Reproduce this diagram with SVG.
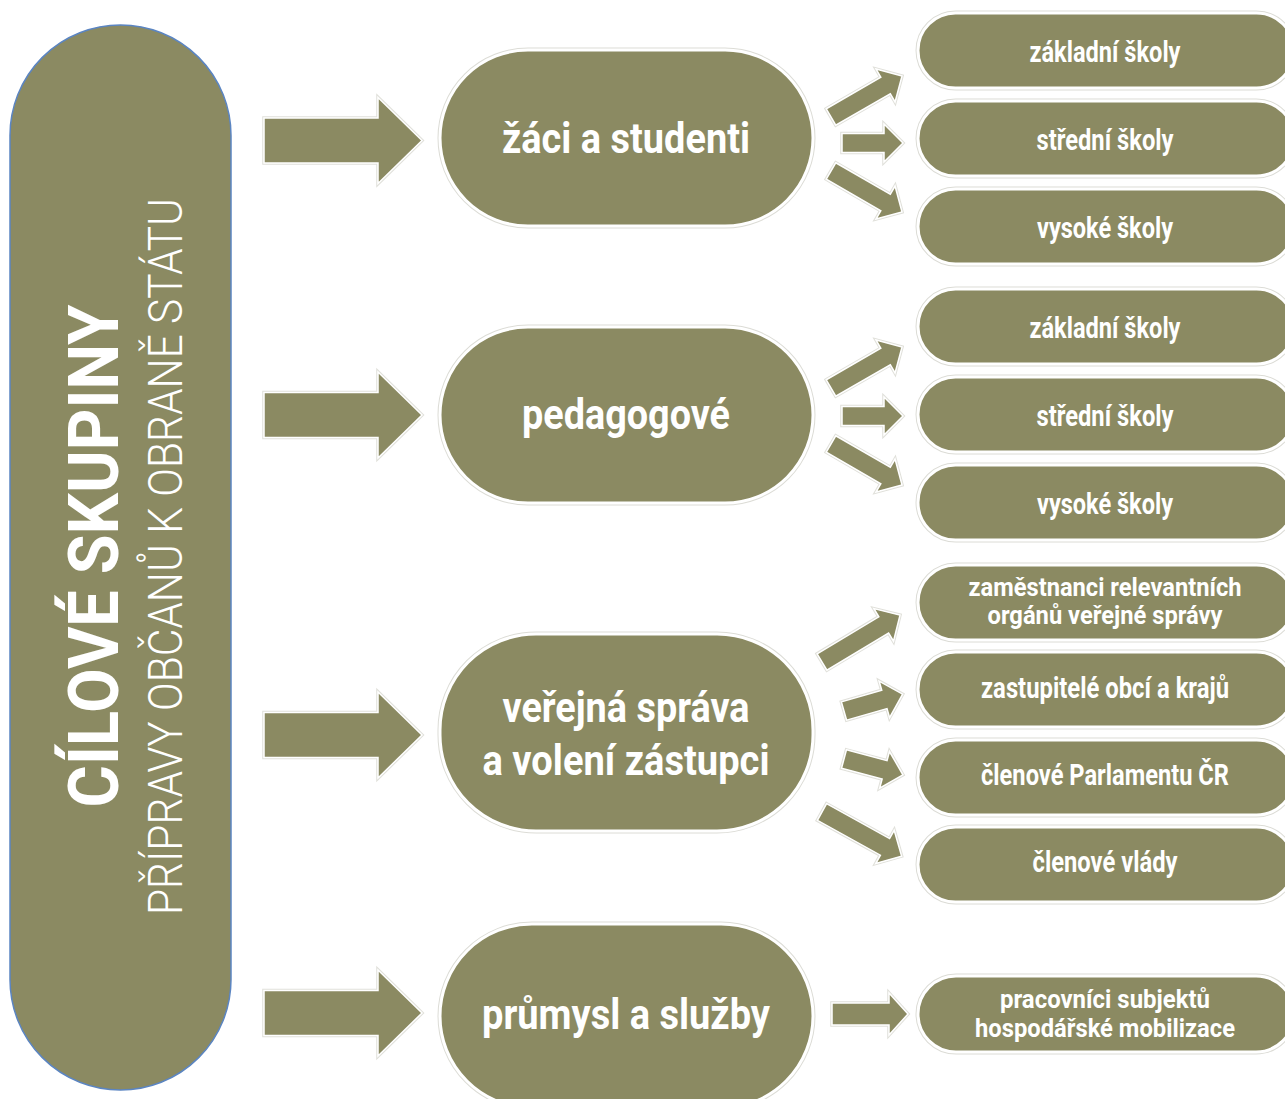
<svg xmlns="http://www.w3.org/2000/svg" xmlns:xlink="http://www.w3.org/1999/xlink" width="1285" height="1099" viewBox="0 0 1285 1099">
<style>
.halo{fill:none;stroke:#dcdcd6;stroke-width:5}
.body{fill:#8b8a62;stroke:#ffffff;stroke-width:3}
.ar{fill:#8b8a62;stroke:#ffffff;stroke-width:1.5}
.arh{fill:none;stroke:#e0e0da;stroke-width:3.5}
.t{font-family:Roboto,"Liberation Sans",Arial,sans-serif;font-weight:700;fill:#ffffff;text-anchor:middle}
.mid{font-size:42px}
.sm{font-size:29px}
.sm2{font-size:26px}
</style>
<defs>
<path id="mainArrow" d="M0,-22.5 H114 V-43 L158,0 L114,43 V22.5 H0 Z"/>
<path id="sa61" d="M0,-9.5 H42 V-19 L61,0 L42,19 V9.5 H0 Z"/>
<path id="sa82" d="M0,-9.5 H63 V-19 L82,0 L63,19 V9.5 H0 Z"/>
<path id="sa91" d="M0,-9.5 H72 V-19 L91,0 L72,19 V9.5 H0 Z"/>
<path id="sa76" d="M0,-11 H57 V-21 L76,0 L57,21 V11 H0 Z"/>
<rect id="midShape" x="0" y="0" width="373" height="176" rx="88" ry="88"/>
<rect id="boxShape" x="0" y="0" width="376" height="75" rx="37.5" ry="37.5"/>
<rect id="boxShape2" x="0" y="0" width="376" height="76" rx="38" ry="38"/>
</defs>
<rect width="1285" height="1099" fill="#ffffff"/>

<g id="node-title">
<rect x="10" y="25" width="221" height="1065" rx="110.5" ry="110.5" fill="#8b8a62" stroke="#5b85c2" stroke-width="1.5"/>
<text class="t" transform="translate(118,556) rotate(-90)" font-size="70" textLength="503" lengthAdjust="spacingAndGlyphs">CÍLOVÉ SKUPINY</text>
<text class="t" transform="translate(182,556.5) rotate(-90)" style="font-weight:300" font-size="49" textLength="717" lengthAdjust="spacingAndGlyphs">PŘÍPRAVY OBČANŮ K OBRANĚ STÁTU</text>
</g>

<g id="connectors">
<g transform="translate(264,140.5)"><use xlink:href="#mainArrow" class="arh"/><use xlink:href="#mainArrow" class="ar"/></g>
<g transform="translate(264,415)"><use xlink:href="#mainArrow" class="arh"/><use xlink:href="#mainArrow" class="ar"/></g>
<g transform="translate(264,735)"><use xlink:href="#mainArrow" class="arh"/><use xlink:href="#mainArrow" class="ar"/></g>
<g transform="translate(264,1013)"><use xlink:href="#mainArrow" class="arh"/><use xlink:href="#mainArrow" class="ar"/></g>

<g transform="translate(831,117) rotate(-30)"><use xlink:href="#sa82" class="arh"/><use xlink:href="#sa82" class="ar"/></g>
<g transform="translate(842,143)"><use xlink:href="#sa61" class="arh"/><use xlink:href="#sa61" class="ar"/></g>
<g transform="translate(831,171) rotate(30)"><use xlink:href="#sa82" class="arh"/><use xlink:href="#sa82" class="ar"/></g>

<g transform="translate(831,388) rotate(-30)"><use xlink:href="#sa82" class="arh"/><use xlink:href="#sa82" class="ar"/></g>
<g transform="translate(842,416)"><use xlink:href="#sa61" class="arh"/><use xlink:href="#sa61" class="ar"/></g>
<g transform="translate(831,444) rotate(30)"><use xlink:href="#sa82" class="arh"/><use xlink:href="#sa82" class="ar"/></g>

<g transform="translate(822,662) rotate(-31)"><use xlink:href="#sa91" class="arh"/><use xlink:href="#sa91" class="ar"/></g>
<g transform="translate(844,711) rotate(-16)"><use xlink:href="#sa61" class="arh"/><use xlink:href="#sa61" class="ar"/></g>
<g transform="translate(844,759) rotate(15)"><use xlink:href="#sa61" class="arh"/><use xlink:href="#sa61" class="ar"/></g>
<g transform="translate(822,812) rotate(29)"><use xlink:href="#sa91" class="arh"/><use xlink:href="#sa91" class="ar"/></g>

<g transform="translate(832,1014)"><use xlink:href="#sa76" class="arh"/><use xlink:href="#sa76" class="ar"/></g>
</g>

<g id="node-zaci">
<use xlink:href="#midShape" x="440" y="50" class="halo"/><use xlink:href="#midShape" x="440" y="50" class="body"/>
<text class="t mid" x="626" y="153" textLength="248" lengthAdjust="spacingAndGlyphs">žáci a studenti</text>
</g>
<g id="node-pedagogove">
<use xlink:href="#midShape" x="440" y="327" class="halo"/><use xlink:href="#midShape" x="440" y="327" class="body"/>
<text class="t mid" x="626" y="429" textLength="208" lengthAdjust="spacingAndGlyphs">pedagogové</text>
</g>
<g id="node-verejna">
<rect x="440" y="634" width="373" height="197" rx="96" ry="96" class="halo"/><rect x="440" y="634" width="373" height="197" rx="96" ry="96" class="body"/>
<text class="t mid" x="626" y="722" textLength="247" lengthAdjust="spacingAndGlyphs">veřejná správa</text>
<text class="t mid" x="626" y="775" textLength="287" lengthAdjust="spacingAndGlyphs">a volení zástupci</text>
</g>
<g id="node-prumysl">
<rect x="440" y="924" width="373" height="184" rx="92" ry="92" class="halo"/><rect x="440" y="924" width="373" height="184" rx="92" ry="92" class="body"/>
<text class="t mid" x="626" y="1029" textLength="288" lengthAdjust="spacingAndGlyphs">průmysl a služby</text>
</g>

<g id="node-r1-zakladni">
<use xlink:href="#boxShape" x="918" y="13" class="halo"/><use xlink:href="#boxShape" x="918" y="13" class="body"/>
<text class="t sm" x="1105" y="62" textLength="151" lengthAdjust="spacingAndGlyphs">základní školy</text>
</g>
<g id="node-r1-stredni">
<use xlink:href="#boxShape" x="918" y="101" class="halo"/><use xlink:href="#boxShape" x="918" y="101" class="body"/>
<text class="t sm" x="1105" y="150" textLength="137" lengthAdjust="spacingAndGlyphs">střední školy</text>
</g>
<g id="node-r1-vysoke">
<use xlink:href="#boxShape" x="918" y="189" class="halo"/><use xlink:href="#boxShape" x="918" y="189" class="body"/>
<text class="t sm" x="1105" y="238" textLength="136" lengthAdjust="spacingAndGlyphs">vysoké školy</text>
</g>

<g id="node-r2-zakladni">
<use xlink:href="#boxShape" x="918" y="289" class="halo"/><use xlink:href="#boxShape" x="918" y="289" class="body"/>
<text class="t sm" x="1105" y="338" textLength="151" lengthAdjust="spacingAndGlyphs">základní školy</text>
</g>
<g id="node-r2-stredni">
<use xlink:href="#boxShape" x="918" y="377" class="halo"/><use xlink:href="#boxShape" x="918" y="377" class="body"/>
<text class="t sm" x="1105" y="426" textLength="137" lengthAdjust="spacingAndGlyphs">střední školy</text>
</g>
<g id="node-r2-vysoke">
<use xlink:href="#boxShape" x="918" y="465" class="halo"/><use xlink:href="#boxShape" x="918" y="465" class="body"/>
<text class="t sm" x="1105" y="514" textLength="136" lengthAdjust="spacingAndGlyphs">vysoké školy</text>
</g>

<g id="node-r3-zamestnanci">
<use xlink:href="#boxShape" x="918" y="565" class="halo"/><use xlink:href="#boxShape" x="918" y="565" class="body"/>
<text class="t sm2" x="1105" y="596" textLength="273" lengthAdjust="spacingAndGlyphs">zaměstnanci relevantních</text>
<text class="t sm2" x="1105" y="624" textLength="235" lengthAdjust="spacingAndGlyphs">orgánů veřejné správy</text>
</g>
<g id="node-r3-zastupitele">
<use xlink:href="#boxShape" x="918" y="652" class="halo"/><use xlink:href="#boxShape" x="918" y="652" class="body"/>
<text class="t sm" x="1105" y="698" textLength="248" lengthAdjust="spacingAndGlyphs">zastupitelé obcí a krajů</text>
</g>
<g id="node-r3-parlament">
<use xlink:href="#boxShape" x="918" y="740" class="halo"/><use xlink:href="#boxShape" x="918" y="740" class="body"/>
<text class="t sm" x="1105" y="785" textLength="248" lengthAdjust="spacingAndGlyphs">členové Parlamentu ČR</text>
</g>
<g id="node-r3-vlada">
<use xlink:href="#boxShape" x="918" y="827" class="halo"/><use xlink:href="#boxShape" x="918" y="827" class="body"/>
<text class="t sm" x="1105" y="872" textLength="145" lengthAdjust="spacingAndGlyphs">členové vlády</text>
</g>

<g id="node-r4-pracovnici">
<use xlink:href="#boxShape2" x="918" y="976" class="halo"/><use xlink:href="#boxShape2" x="918" y="976" class="body"/>
<text class="t sm2" x="1105" y="1008" textLength="210" lengthAdjust="spacingAndGlyphs">pracovníci subjektů</text>
<text class="t sm2" x="1105" y="1037" textLength="260" lengthAdjust="spacingAndGlyphs">hospodářské mobilizace</text>
</g>
</svg>
